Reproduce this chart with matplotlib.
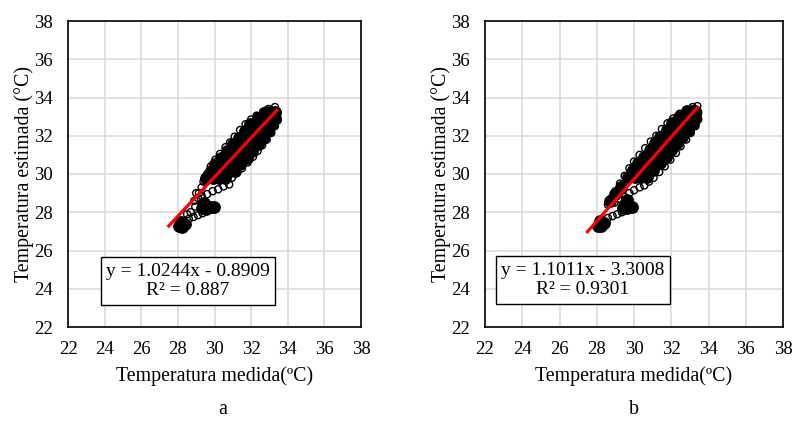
import numpy as np
import matplotlib
matplotlib.use("Agg")
import matplotlib.pyplot as plt

plt.rcParams['font.family'] = ['Liberation Serif', 'DejaVu Serif']

# axis ticks
ticks = [22, 24, 26, 28, 30, 32, 34, 36, 38]

# panel a: fitted trend and estimated points
slope_a, icpt_a = 1.0244, -0.8909
r2_a = "0.887"
# dense core of the cloud (overplotted circles)
core_ax_a = [29.55, 29.9, 30.25, 30.6,
             29.8, 30.15, 30.5, 30.85, 31.1,
             30.0, 30.35, 30.7, 31.05, 31.4,
             30.35, 30.7, 31.05, 31.4, 31.75,
             30.7, 31.05, 31.4, 31.75, 32.05,
             31.0, 31.35, 31.7, 32.05, 32.35,
             31.35, 31.7, 32.0, 32.35, 32.65,
             31.65, 32.0, 32.3, 32.6, 32.9,
             31.95, 32.3, 32.6, 32.9, 33.15,
             32.35, 32.7, 33.0, 33.3,
             32.8, 33.1, 33.3,
             29.3, 29.55, 29.8, 29.95, 29.4,
             28.05, 28.25, 28.4, 28.15]
core_ay_a = [29.8, 29.8, 29.8, 29.8,
             30.15, 30.15, 30.15, 30.15, 30.15,
             30.5, 30.5, 30.5, 30.5, 30.5,
             30.85, 30.85, 30.85, 30.85, 30.85,
             31.2, 31.2, 31.2, 31.2, 31.2,
             31.55, 31.55, 31.55, 31.55, 31.55,
             31.9, 31.9, 31.9, 31.9, 31.9,
             32.25, 32.25, 32.25, 32.25, 32.25,
             32.6, 32.6, 32.6, 32.6, 32.6,
             32.95, 32.95, 32.95, 32.95,
             33.25, 33.25, 33.25,
             28.2, 28.15, 28.25, 28.3, 28.5,
             27.3, 27.25, 27.4, 27.5]
# individual circles visible on the edges of the cloud
edge_ax_a = [29.4, 29.6, 29.8, 30.05, 30.3, 30.6, 30.85, 31.1, 31.4, 31.7,
             32.0, 32.3, 32.65, 32.95, 33.3,
             33.45, 33.45, 33.3, 33.1, 32.85, 32.6, 32.35, 32.1, 31.8, 31.5,
             31.2, 30.95,
             30.8, 30.5, 30.2, 29.9, 29.6, 29.3, 29.1,
             29.3, 29.15, 28.9, 29.0,
             28.6, 28.85, 29.1, 29.35, 28.7, 28.95, 28.5]
edge_ay_a = [29.6, 30.0, 30.4, 30.75, 31.05, 31.4, 31.65, 31.95, 32.3, 32.6,
             32.85, 33.05, 33.25, 33.4, 33.5,
             33.2, 32.8, 32.5, 32.15, 31.8, 31.5, 31.2, 30.9, 30.6, 30.3,
             30.05, 29.8,
             29.45, 29.35, 29.2, 29.1, 28.95, 28.85, 28.75,
             29.3, 29.0, 28.6, 29.0,
             27.65, 27.75, 27.85, 27.95, 28.0, 28.3, 27.9]

# panel b
slope_b, icpt_b = 1.1011, -3.3008
r2_b = "0.9301"
core_ax_b = [29.7, 30.05, 30.4, 30.7,
             29.95, 30.3, 30.65, 31.0,
             30.2, 30.5, 30.8, 31.1, 31.4,
             30.55, 30.85, 31.15, 31.45, 31.7,
             30.85, 31.15, 31.45, 31.75, 32.0,
             31.15, 31.45, 31.75, 32.05, 32.3,
             31.4, 31.7, 32.0, 32.3, 32.6,
             31.75, 32.05, 32.35, 32.65, 32.9,
             32.05, 32.35, 32.65, 32.9, 33.15,
             32.4, 32.7, 33.0, 33.3,
             32.85, 33.1, 33.3,
             29.0, 29.3, 28.7,
             29.4, 29.65, 29.9, 29.5, 29.6,
             28.05, 28.25, 28.4, 28.2]
core_ay_b = [29.85, 29.85, 29.85, 29.85,
             30.2, 30.2, 30.2, 30.2,
             30.55, 30.55, 30.55, 30.55, 30.55,
             30.9, 30.9, 30.9, 30.9, 30.9,
             31.25, 31.25, 31.25, 31.25, 31.25,
             31.6, 31.6, 31.6, 31.6, 31.6,
             31.95, 31.95, 31.95, 31.95, 31.95,
             32.3, 32.3, 32.3, 32.3, 32.3,
             32.65, 32.65, 32.65, 32.65, 32.65,
             33.0, 33.0, 33.0, 33.0,
             33.3, 33.3, 33.3,
             28.95, 29.3, 28.6,
             28.2, 28.2, 28.3, 28.45, 28.65,
             27.3, 27.3, 27.45, 27.55]
edge_ax_b = [29.0, 29.25, 29.5, 29.75, 30.0, 30.3, 30.6, 30.9, 31.2, 31.5,
             31.8, 32.1, 32.45, 32.8, 33.15, 33.4,
             33.45, 33.45, 33.3, 33.05, 32.8, 32.5, 32.25, 31.95, 31.65, 31.35,
             31.05, 30.8,
             30.55, 30.3, 30.0, 29.75, 29.5, 29.25,
             28.8, 28.6, 28.95,
             28.6, 28.85, 29.1, 29.35]
edge_ay_b = [29.1, 29.5, 29.9, 30.3, 30.65, 31.0, 31.35, 31.7, 32.0, 32.35,
             32.65, 32.9, 33.15, 33.35, 33.5, 33.55,
             33.2, 32.85, 32.5, 32.15, 31.8, 31.45, 31.1, 30.75, 30.4, 30.1,
             29.8, 29.6,
             29.4, 29.3, 29.15, 29.0, 28.8, 28.7,
             28.75, 28.4, 28.5,
             27.7, 27.8, 27.9, 28.0]

trend_x = [27.5, 33.4]

fig = plt.figure(figsize=(7.96, 4.21), dpi=100)
ax_a = fig.add_axes([68 / 796, 1 - 327 / 421, 293 / 796, 306 / 421])
ax_b = fig.add_axes([485 / 796, 1 - 327 / 421, 298 / 796, 306 / 421])

panels = [
    (ax_a, core_ax_a, core_ay_a, edge_ax_a, edge_ay_a, slope_a, icpt_a, r2_a, (28.55, 24.4), "a", 223),
    (ax_b, core_ax_b, core_ay_b, edge_ax_b, edge_ay_b, slope_b, icpt_b, r2_b, (27.26, 24.45), "b", 634),
]

for ax, cx, cy, ex, ey, m, b, r2, boxpos, tag, tagx in panels:
    ax.set_xlim(22, 38)
    ax.set_ylim(22, 38)
    ax.set_xticks(ticks)
    ax.set_yticks(ticks)
    ax.grid(True, color='#d9d9d9', linewidth=1.1)
    ax.set_axisbelow(True)
    for s in ax.spines.values():
        s.set_linewidth(1.2)
        s.set_color('black')
    ax.tick_params(length=0, labelsize=13.5)
    ax.tick_params(axis='x', pad=10)
    ax.tick_params(axis='y', pad=11)

    ax.scatter(cx, cy, s=70, facecolor='black', edgecolor='black', linewidth=0.8, zorder=3)
    ax.scatter(ex, ey, s=26, facecolor='none', edgecolor='black', linewidth=1.0, zorder=3)
    ty = [m * v + b for v in trend_x]
    ax.plot(trend_x, ty, color='#ff0000', linewidth=2.3, zorder=4)

    sign = '-' if b < 0 else '+'
    ax.text(boxpos[0], boxpos[1], f"y = {m:.4f}x {sign} {abs(b):.4f}\nR² = {r2}",
            ha='center', va='center', fontsize=14, linespacing=1.2, zorder=5,
            bbox=dict(boxstyle='square,pad=0.28', facecolor='white', edgecolor='black', linewidth=1.0))

    ax.set_xlabel('Temperatura medida(ºC)', fontsize=14.3, labelpad=6)
    ax.set_ylabel('Temperatura estimada (°C)', fontsize=14.3, labelpad=0)
    fig.text(tagx / 796, 1 - 410 / 421, tag, ha='center', va='center', fontsize=14.3)

fig.savefig('out.png', dpi=100)
